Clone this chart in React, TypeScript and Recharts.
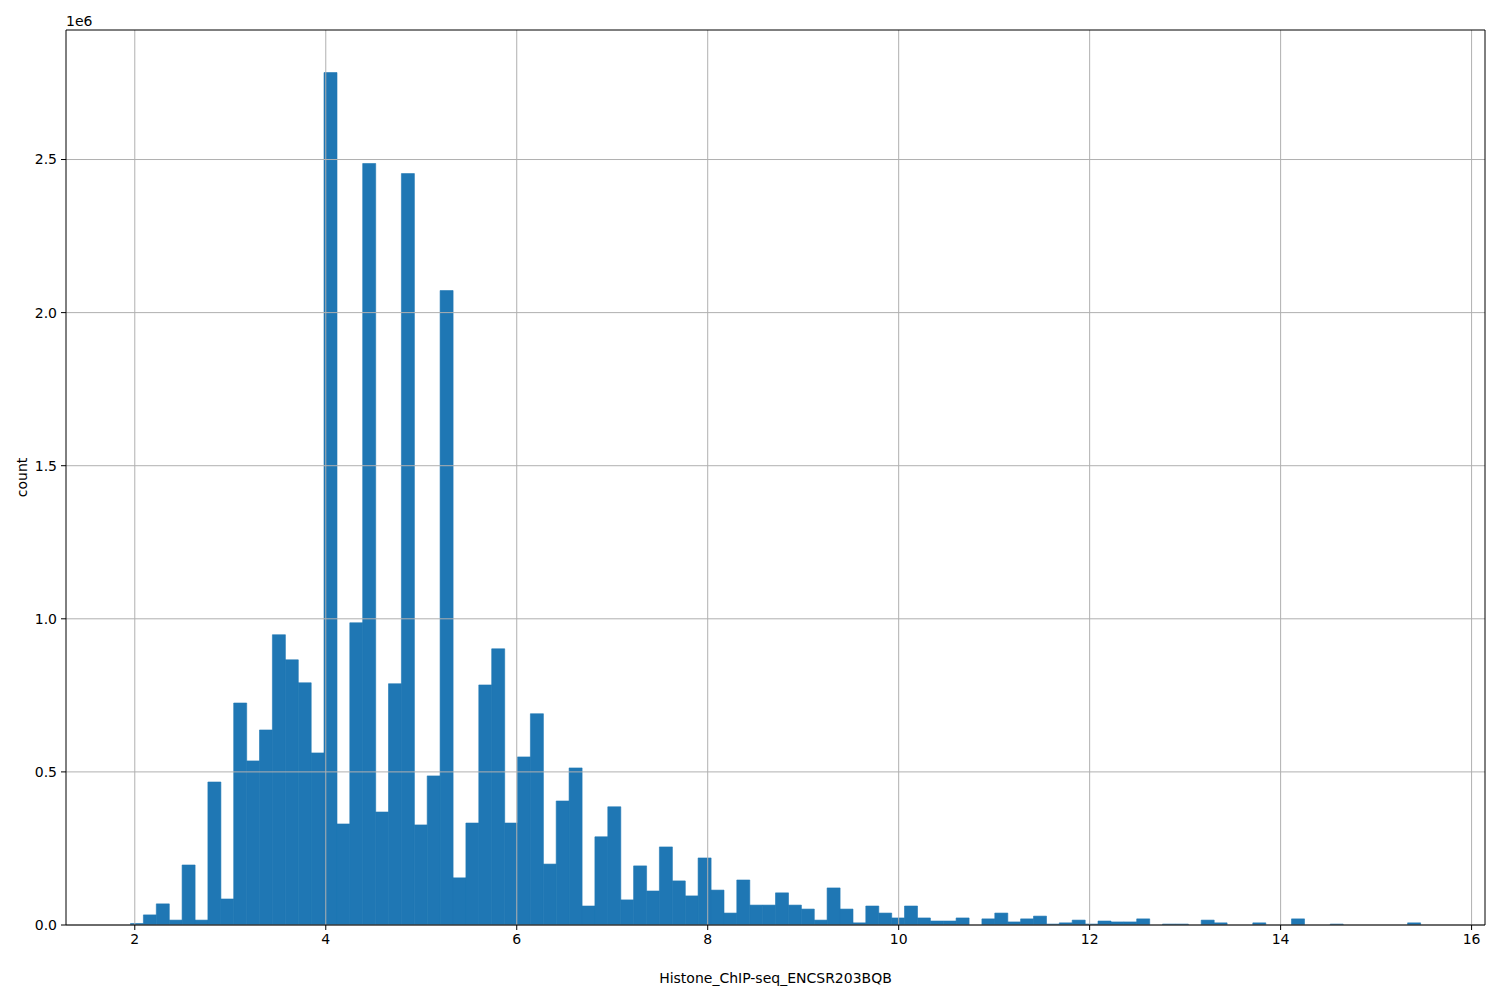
import React from 'react'
import { BarChart, Bar, XAxis, YAxis, ReferenceLine, Label } from 'recharts'

// histogram: 100 equal bins starting at binStart
const binStart = 1.955
const binWidth = 0.1351

const counts = [
  5000, 33000, 69000, 16000, 196000, 16000, 467000, 85000, 725000, 536000,
  637000, 948000, 866000, 791000, 562000, 2784000, 330000, 987000, 2487000, 369000,
  788000, 2454000, 327000, 487000, 2072000, 154000, 333000, 784000, 902000, 333000,
  549000, 690000, 199000, 405000, 513000, 62000, 288000, 386000, 82000, 193000,
  111000, 255000, 144000, 95000, 219000, 114000, 39000, 147000, 65000, 65000,
  105000, 65000, 52000, 16000, 121000, 52000, 7000, 62000, 39000, 23000,
  62000, 23000, 13000, 13000, 23000, 0, 20000, 39000, 10000, 20000,
  29000, 3000, 7000, 16000, 3000, 13000, 10000, 10000, 20000, 0,
  3000, 3000, 0, 16000, 7000, 0, 0, 7000, 0, 0,
  20000, 0, 0, 3000, 0, 0, 0, 0, 0, 7000,
]

const xTicks = [2, 4, 6, 8, 10, 12, 14, 16]
const yTicks = [0, 500000, 1000000, 1500000, 2000000, 2500000]
const xDomain: [number, number] = [1.2795, 16.1405]
const yDomain: [number, number] = [0, 2923000]

const data = counts.map((count, i) => ({ x: binStart + binWidth * (i + 0.5), count }))

const tickStyle = { fontSize: 14, fill: '#000', fontFamily: 'DejaVu Sans' }

export default function App() {
  return (
    <div
      style={{
        position: 'absolute',
        left: 0,
        top: 0,
        width: 1500,
        height: 1000,
        background: '#fff',
        fontFamily: 'DejaVu Sans',
      }}
    >
      <div style={{ position: 'absolute', left: 66, top: 13, fontSize: 14, color: '#000' }}>1e6</div>
      <BarChart
        width={1500}
        height={1000}
        data={data}
        margin={{ top: 30, right: 15, bottom: 15, left: 0 }}
        barCategoryGap={0}
        barGap={0}
      >
        <XAxis
          dataKey="x"
          type="number"
          domain={xDomain}
          ticks={xTicks}
          allowDataOverflow
          height={60}
          tick={tickStyle}
          tickSize={5}
          tickMargin={4}
          tickLine={{ stroke: '#000' }}
          axisLine={{ stroke: '#000' }}
        >
          <Label
            value="Histone_ChIP-seq_ENCSR203BQB"
            position="insideBottom"
            offset={2}
            style={{ fontSize: 14, fill: '#000', fontFamily: 'DejaVu Sans' }}
          />
        </XAxis>
        <YAxis
          type="number"
          domain={yDomain}
          ticks={yTicks}
          allowDataOverflow
          width={66}
          tick={tickStyle}
          tickSize={5}
          tickMargin={4}
          tickLine={{ stroke: '#000' }}
          axisLine={{ stroke: '#000' }}
          tickFormatter={(v: number) => (v / 1000000).toFixed(1)}
        >
          <Label
            value="count"
            angle={-90}
            position="insideLeft"
            offset={22}
            style={{ textAnchor: 'middle', fontSize: 14, fill: '#000', fontFamily: 'DejaVu Sans' }}
          />
        </YAxis>
        <Bar
          dataKey="count"
          fill="#1f77b4"
          stroke="#1f77b4"
          strokeWidth={0.6}
          isAnimationActive={false}
        />
        {xTicks.map((t) => (
          <ReferenceLine key={'gx' + t} x={t} stroke="#b0b0b0" strokeWidth={1} />
        ))}
        {yTicks.map((t) => (
          <ReferenceLine key={'gy' + t} y={t} stroke="#b0b0b0" strokeWidth={1} />
        ))}
        <ReferenceLine y={yDomain[1]} stroke="#000" strokeWidth={1} />
        <ReferenceLine x={xDomain[1]} stroke="#000" strokeWidth={1} />
      </BarChart>
    </div>
  )
}
